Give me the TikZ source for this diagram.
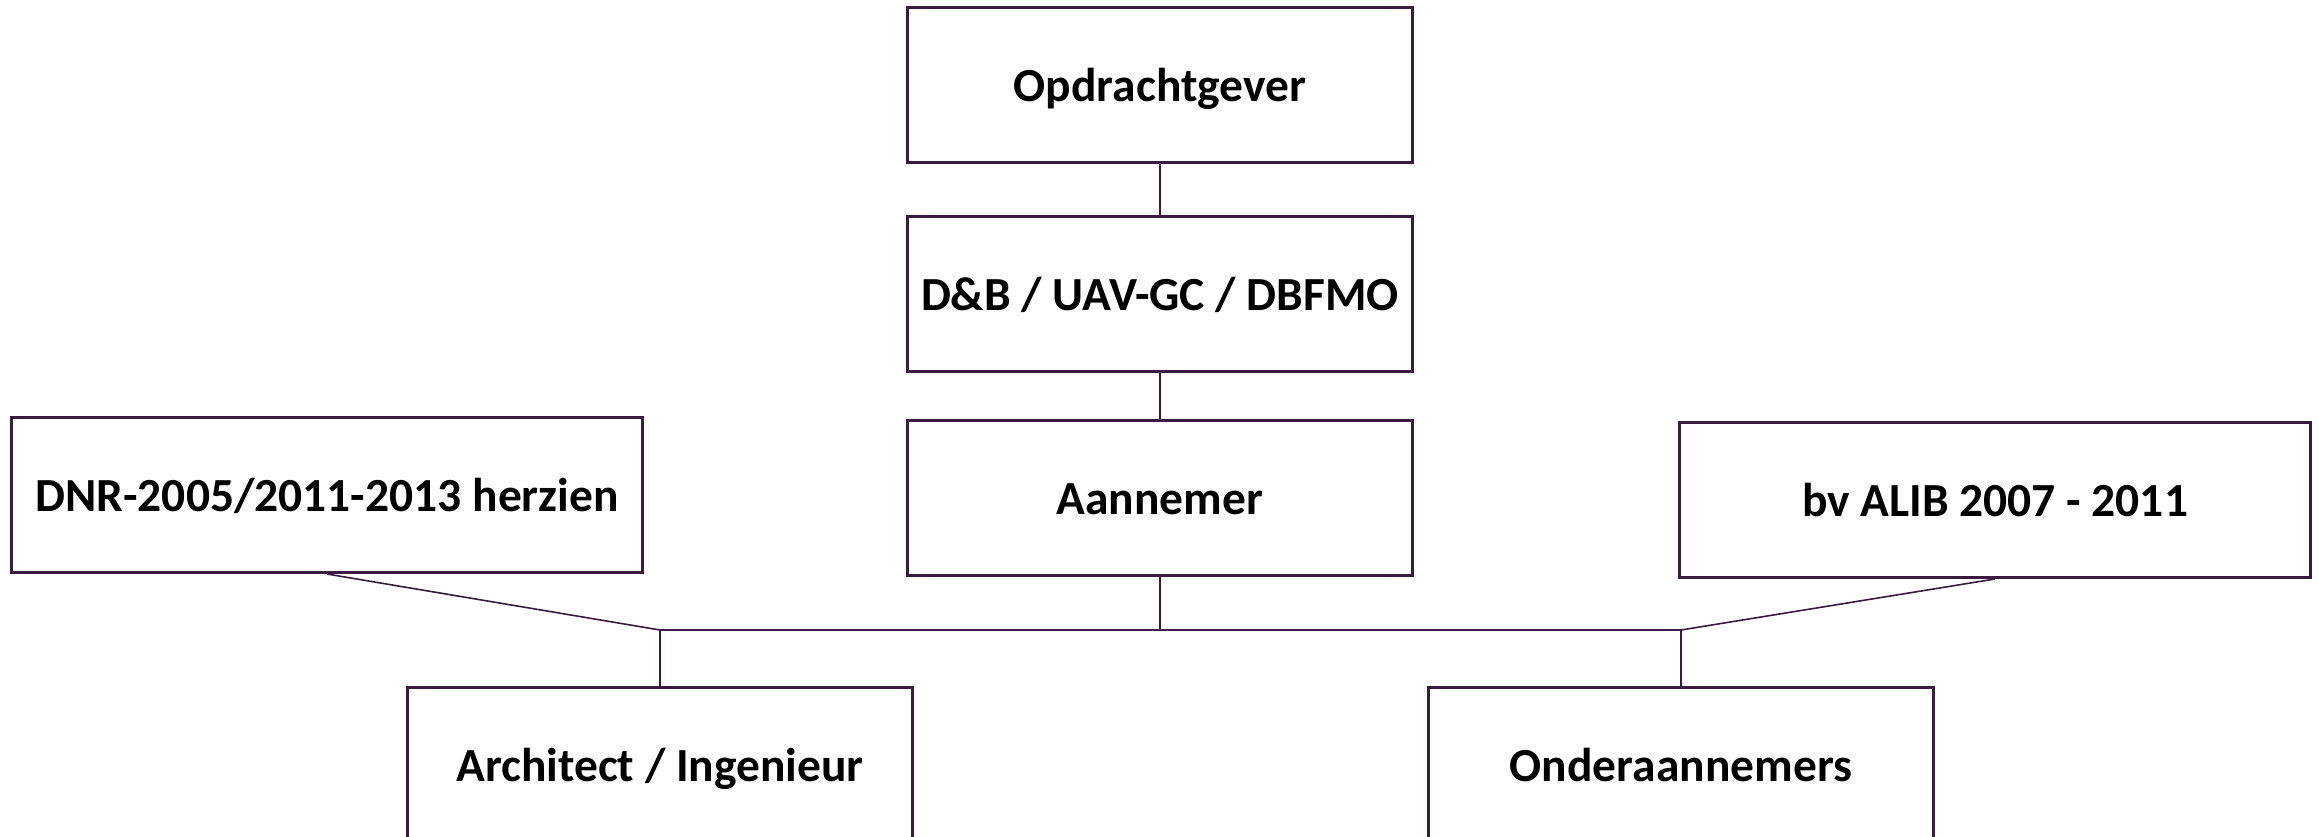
\documentclass[tikz,border=0pt]{standalone}
\usepackage{fontspec}
\setmainfont{Carlito}
\definecolor{lineclr}{RGB}{58,26,64}
\begin{document}
\begin{tikzpicture}[x=1pt,y=-1pt,
  box/.style={draw=lineclr,line width=3pt,fill=white,rectangle,inner sep=0pt,
    minimum width=505pt,minimum height=155pt,text height=33pt,text depth=0pt,
    font=\fontsize{47.5}{54}\selectfont\bfseries},
  wbox/.style={box,minimum width=631pt},
  conn/.style={draw=lineclr,line width=1.6pt}]
\useasboundingbox (0,0) rectangle (2318,837);
\node[box] (opd) at (1160,85) {Opdrachtgever};
\node[box] (db) at (1160,294) {D\&B / UAV-GC / DBFMO};
\node[box] (aan) at (1160,498) {Aannemer};
\node[wbox] (dnr) at (327,495) {DNR-2005/2011-2013 herzien};
\node[wbox] (alib) at (1995,500) {bv ALIB 2007 - 2011};
\node[box] (arch) at (660,765) {Architect / Ingenieur};
\node[box] (ond) at (1681,765) {Onderaannemers};
\coordinate (jl) at (660,630);
\coordinate (jm) at (1160,630);
\coordinate (jr) at (1681,630);
\draw[conn] (opd.south) -- (db.north);
\draw[conn] (db.south) -- (aan.north);
\draw[conn] (aan.south) -- (jm);
\draw[conn] (jl) -- (jr);
\draw[conn] (jl) -- (arch.north);
\draw[conn] (jr) -- (ond.north);
\draw[conn] (dnr.south) -- (jl);
\draw[conn] (alib.south) -- (jr);
\end{tikzpicture}
\end{document}
